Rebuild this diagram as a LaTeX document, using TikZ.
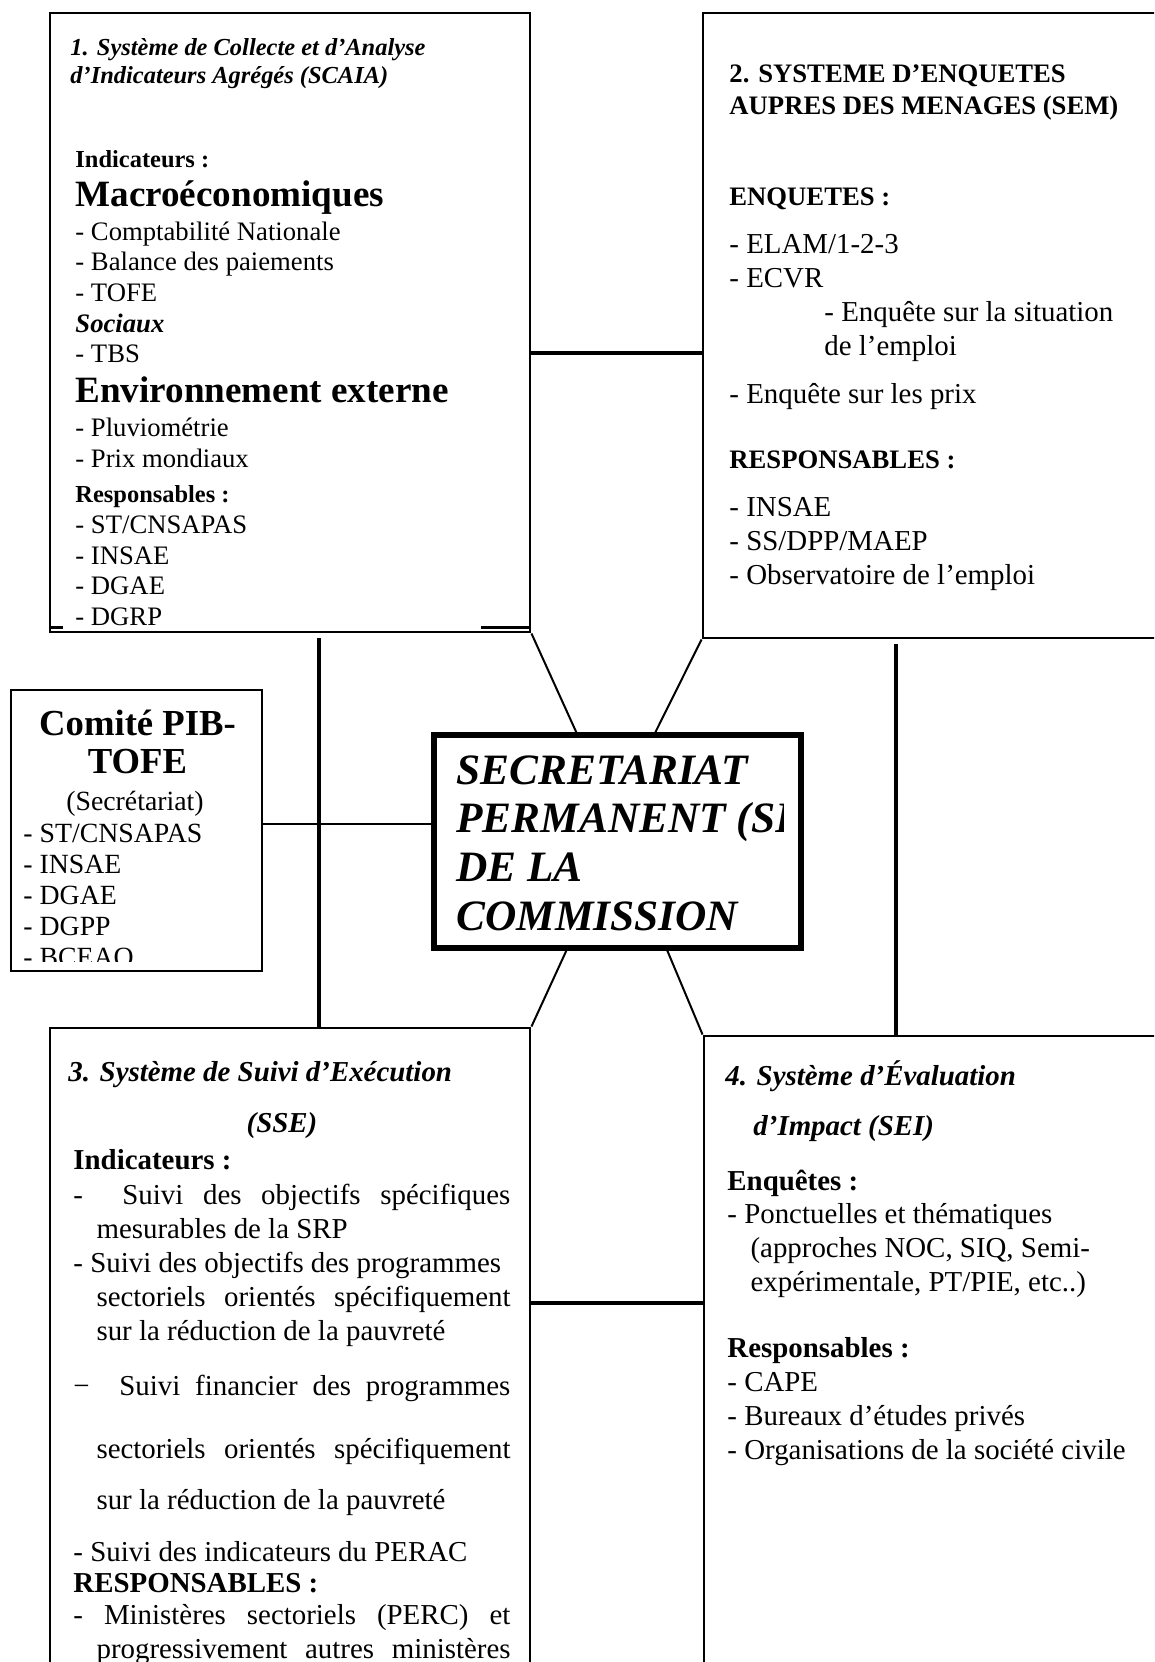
\documentclass[tikz,border=0pt]{standalone}
\usepackage{fontspec}
\setmainfont{Liberation Serif}
\usetikzlibrary{positioning,calc}

\newcommand{\jfull}[1]{\makebox[196.6pt][s]{#1}}
\newcommand{\jind}[1]{\makebox[186.3pt][s]{#1}}

\begin{document}
\begin{tikzpicture}[
    x=0.45pt, y=-0.45pt,
    panel/.style = {rectangle, draw, line width=1.3pt, inner sep=0pt},
    core/.style = {rectangle, draw, line width=2.4pt, inner sep=0pt},
    link/.style = {line width=2.2pt},
    thin/.style = {line width=0.9pt},
    txt/.style = {anchor=base west, inner sep=0pt, align=left, font=\fontsize{12}{13.7}\selectfont},
    txtb/.style = {txt, font=\fontsize{13}{15.3}\selectfont},
    lbl/.style = {txt, font=\bfseries\fontsize{11}{13}\selectfont},
    lblb/.style = {txt, font=\bfseries\fontsize{13}{15.3}\selectfont},
    ttl/.style = {txt, font=\bfseries\itshape\fontsize{11}{13}\selectfont},
    ttlb/.style = {txt, font=\bfseries\itshape\fontsize{13}{15.3}\selectfont},
    large/.style = {txt, font=\bfseries\fontsize{16.7}{18}\selectfont}
]
    \clip (0,0) rectangle (1154,1662);

    % Boxes
    \node[panel, minimum width=216pt, minimum height=278.55pt] (box1) at (290,322.5) {};
    \node[panel, minimum width=223.65pt, minimum height=281.25pt] (box2) at (951.5,325.5) {};
    \node[panel, minimum width=216pt, minimum height=302.4pt] (box3) at (290,1364) {};
    \node[panel, minimum width=223.2pt, minimum height=298.8pt] (box4) at (952,1368) {};
    \node[panel, line width=1.1pt, minimum width=112.95pt, minimum height=126.45pt] (comite) at (136.5,830.5) {};
    \node[core, minimum width=165.15pt, minimum height=95.85pt] (sp) at (617.5,841.5) {};

    % Lines
    \draw[link] ($(box1.east)+(0,30.5)$) coordinate (m1) -- (m1 -| box2.west);
    \draw[link] ($(box3.east)+(0,-61)$) coordinate (m3) -- (m3 -| box4.west);
    \draw[link] ($(box1.south)+(29,5)$) coordinate (v1) -- (v1 |- box3.north);
    \draw[link] ($(box2.south)+(-55.5,5)$) coordinate (v2) -- (v2 |- box4.north);
    \draw[thin] ($(comite.east)+(0,-7)$) coordinate (m2) -- (m2 -| sp.west);
    \draw[thin] (box1.south east) -- ($(sp.north west)+(145,0)$);
    \draw[thin] (box2.south west) -- ($(sp.north west)+(224,0)$);
    \draw[thin] ($(sp.south west)+(135,0)$) -- (box3.north east);
    \draw[thin] ($(sp.south west)+(236,0)$) -- (box4.north west);
    \draw[panel] (box1.south west) ++(1,-6) -- ++(13,0);
    \draw[panel] (box1.south east) ++(-50,-6) -- ++(48,0);

    % Box 1
    \node[ttl] (t1) at (70,84) {1. Système de Collecte et d’Analyse\\d’Indicateurs Agrégés (SCAIA)};
    \node[lbl] (ind1) at (75,167) {Indicateurs :};
    \node[large] (macro) at (75,206) {Macroéconomiques};
    \node[txt] (list1) at (75,301) {- Comptabilité Nationale\\- Balance des paiements\\- TOFE};
    \node[txt, font=\bfseries\itshape\fontsize{12}{13.7}\selectfont] (soc) at (75,332) {Sociaux};
    \node[txt] (tbs) at (75,362) {- TBS};
    \node[large] (env) at (75,402) {Environnement externe};
    \node[txt] (list2) at (75,467) {- Pluviométrie\\- Prix mondiaux};
    \node[lbl] (resp1) at (75,502) {Responsables :};
    \node[txt] (list3) at (75,625) {- ST/CNSAPAS\\- INSAE\\- DGAE\\- DGRP};

    % Box 2
    \node[txt, font=\bfseries\fontsize{12}{14}\selectfont] (t2) at (729,114) {2. SYSTEME D’ENQUETES\\AUPRES DES MENAGES (SEM)};
    \node[txt, font=\bfseries\fontsize{12}{14}\selectfont] (enq2) at (729,205) {ENQUETES :};
    \node[txtb] (list4) at (729,403) {- ELAM/1-2-3\\- ECVR\\\hspace*{42.75pt}- Enquête sur la situation\\\hspace*{42.75pt}de l’emploi\\[5.9pt]- Enquête sur les prix};
    \node[txt, font=\bfseries\fontsize{12}{14}\selectfont] (resp2) at (729,468) {RESPONSABLES :};
    \node[txtb] (list5) at (729,584) {- INSAE\\- SS/DPP/MAEP\\- Observatoire de l’emploi};

    % Comite PIB-TOFE
    \begin{scope}
        \clip (11,690) rectangle (262,961);
        \node[anchor=base, align=center, inner sep=0pt, font=\bfseries\fontsize{16.5}{17}\selectfont] (t5) at (137.5,773) {Comité PIB-\\TOFE};
        \node[anchor=base, inner sep=0pt, font=\fontsize{12.5}{14}\selectfont] (sec) at (135,810) {(Secrétariat)};
        \node[txt, font=\fontsize{12.5}{13.84}\selectfont] (list6) at (23,966) {- ST/CNSAPAS\\- INSAE\\- DGAE\\- DGPP\\- BCEAO};
    \end{scope}

    % Secretariat permanent
    \begin{scope}
        \clip (434,735) rectangle (783,948);
        \node[txt, font=\bfseries\itshape\fontsize{19.5}{21.9}\selectfont] (t6) at (456,930) {SECRETARIAT\\PERMANENT (SP)\\DE LA\\COMMISSION};
    \end{scope}

    % Box 3
    \node[ttlb] (t3) at (68,1081) {3. Système de Suivi d’Exécution};
    \node[ttlb, anchor=base] (sse) at (282,1132) {(SSE)};
    \node[lblb] (ind3) at (73,1169) {Indicateurs :};
    \node[txtb] (list7) at (73,1561) {\jfull{-\ \ Suivi des objectifs spécifiques}\\\hspace*{10.4pt}mesurables de la SRP\\- Suivi des objectifs des programmes\\\hspace*{10.4pt}\jind{sectoriels orientés spécifiquement}\\\hspace*{10.4pt}sur la réduction de la pauvreté\\[9.5pt]\jfull{−\ \ Suivi financier des programmes}\\[13pt]\hspace*{10.4pt}\jind{sectoriels orientés spécifiquement}\\[7.6pt]\hspace*{10.4pt}sur la réduction de la pauvreté\\[8pt]- Suivi des indicateurs du PERAC};
    \node[lblb] (resp3) at (73,1592) {RESPONSABLES :};
    \node[txtb] (list8) at (73,1658) {\jfull{- Ministères sectoriels (PERC) et}\\\hspace*{10.4pt}\jind{progressivement autres ministères}};

    % Box 4
    \node[ttlb] (t4) at (725,1135) {4. Système d’Évaluation\\[7pt]\hspace*{12.6pt}d’Impact (SEI)};
    \node[lblb] (enq4) at (727,1190) {Enquêtes :};
    \node[txtb] (list9) at (727,1291) {- Ponctuelles et thématiques\\\hspace*{10.4pt}(approches NOC, SIQ, Semi-\\\hspace*{10.4pt}expérimentale, PT/PIE, etc..)};
    \node[lblb] (resp4) at (727,1357) {Responsables :};
    \node[txtb] (list10) at (727,1459) {- CAPE\\- Bureaux d’études privés\\- Organisations de la société civile};

\end{tikzpicture}
\end{document}
